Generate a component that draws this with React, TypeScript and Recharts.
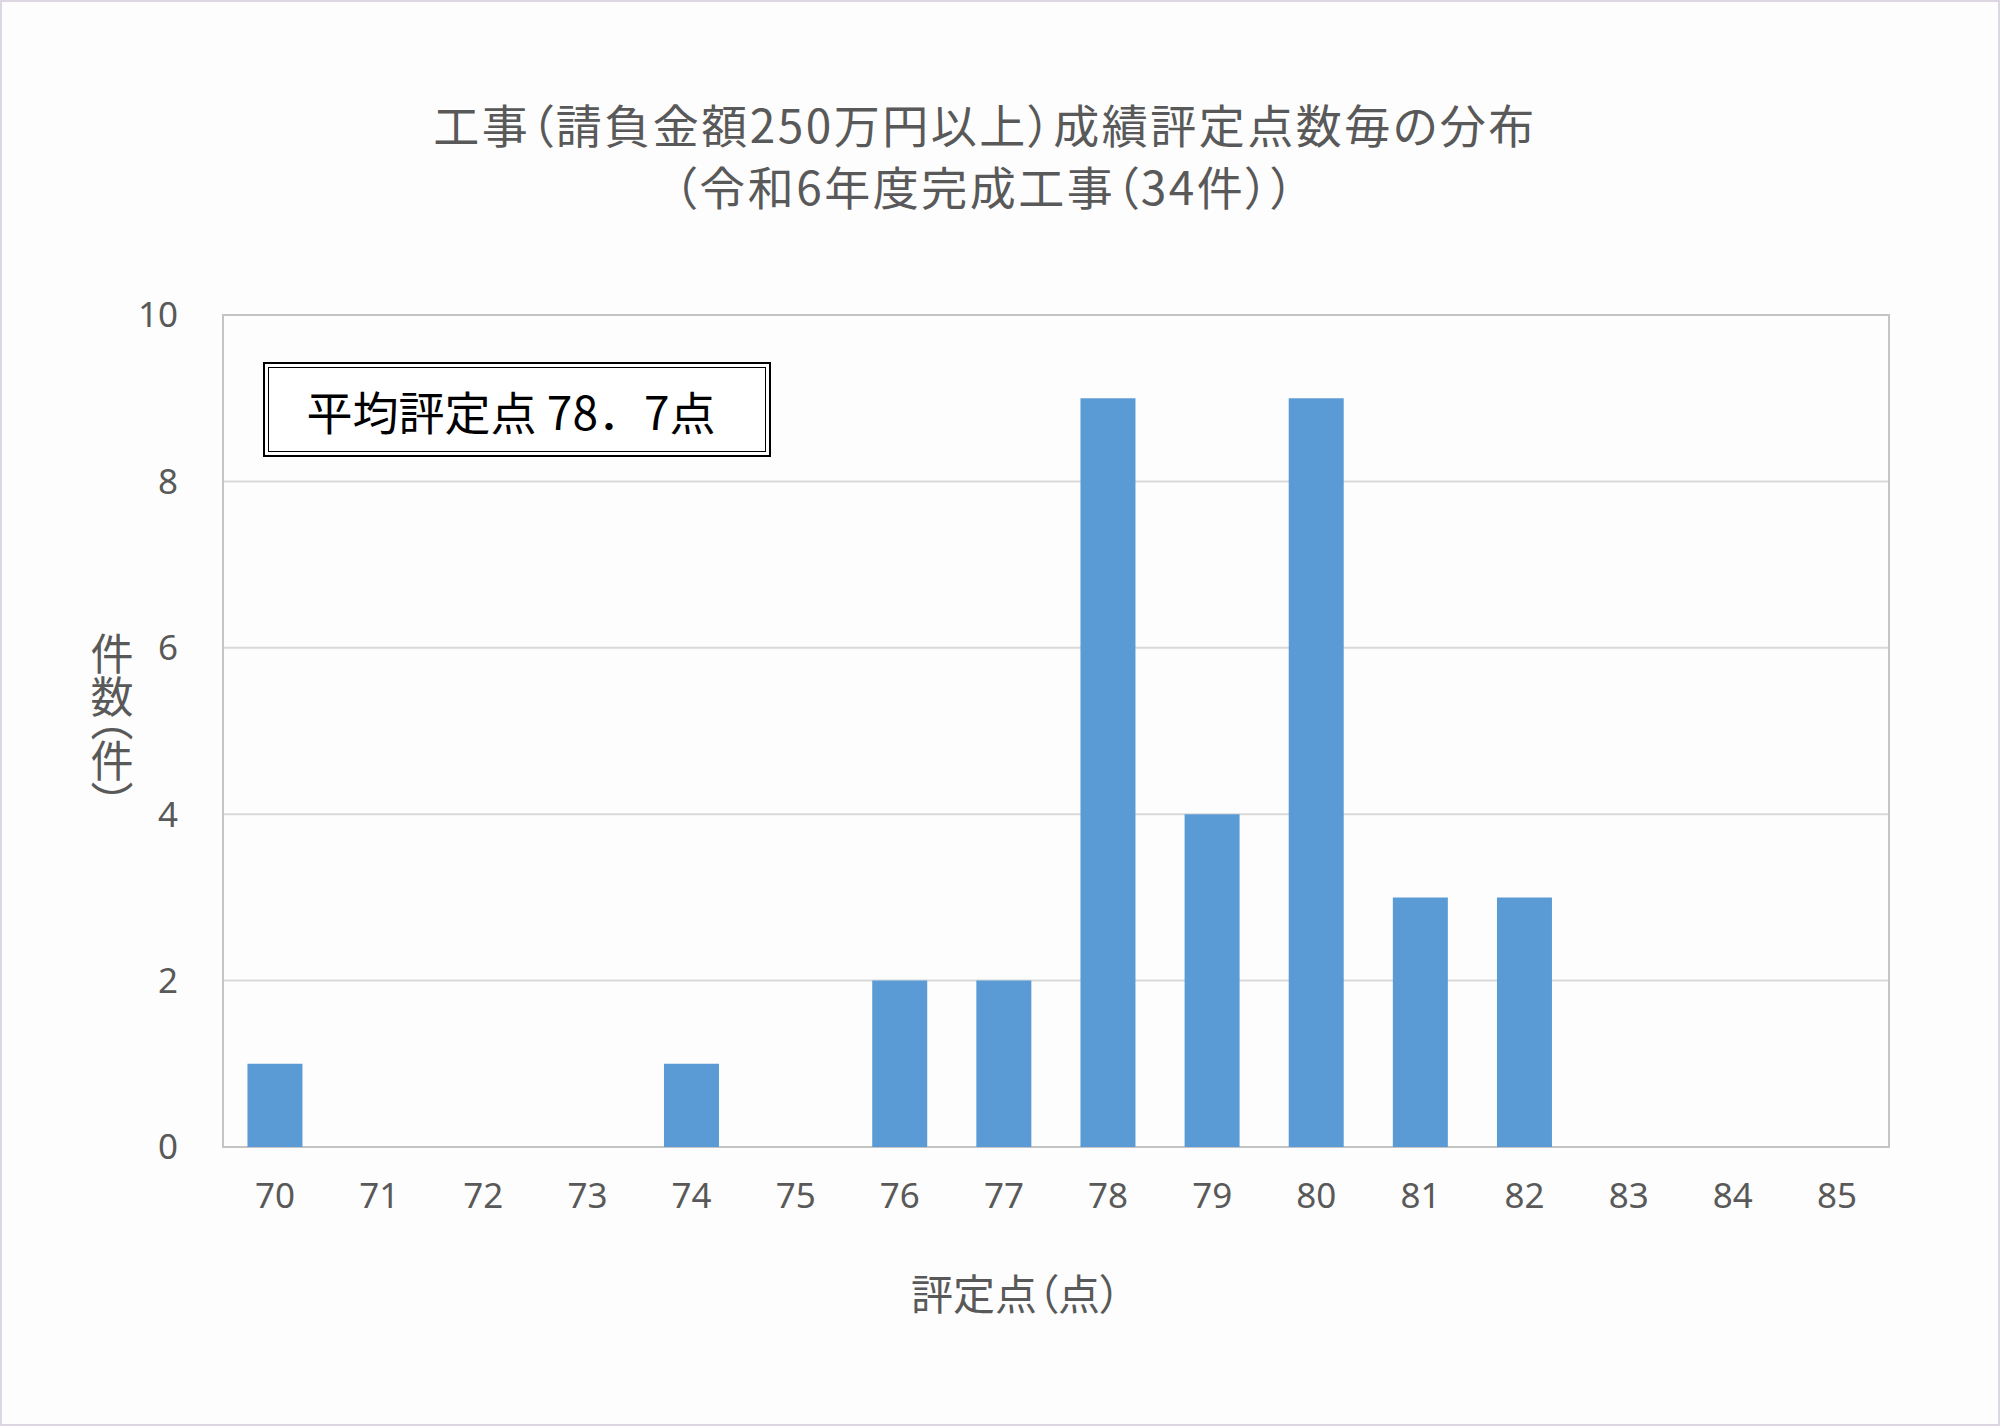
import React from 'react';
import { BarChart, Bar, XAxis, YAxis, CartesianGrid, ReferenceArea } from 'recharts';

const scores = ['70', '71', '72', '73', '74', '75', '76', '77', '78', '79', '80', '81', '82', '83', '84', '85'];
const counts = [1, 0, 0, 0, 1, 0, 2, 2, 9, 4, 9, 3, 3, 0, 0, 0];
const yTicks = [0, 2, 4, 6, 8, 10];
const titleLine1 = '工事（請負金額250万円以上）成績評定点数毎の分布';
const titleLine2 = '（令和6年度完成工事（34件））';
const xTitle = '評定点（点）';
const yTitle = '件数（件）';
const avgLabel = '平均評定点 78．7点';

const data = scores.map((s, i) => ({ score: s, count: counts[i] }));

const CJK = '"Noto Sans CJK JP", "Noto Sans", sans-serif';
const TEXT = '#595959';

export default function App() {
  return (
    <div
      style={{
        position: 'absolute',
        left: 0,
        top: 0,
        width: 2000,
        height: 1426,
        background: '#fdfdfd',
        overflow: 'hidden',
      }}
    >
      <BarChart
        width={2000}
        height={1426}
        data={data}
        margin={{ top: 315, right: 111, bottom: 219, left: 123 }}
        barCategoryGap="23.5%"
        style={{ fontFamily: '"Noto Sans", sans-serif' }}
      >
        <CartesianGrid vertical={false} stroke="#d9d9d9" strokeWidth={2} />
        <XAxis
          dataKey="score"
          interval={0}
          height={60}
          tickLine={false}
          axisLine={false}
          tickSize={0}
          tickMargin={36}
          tick={{ fill: TEXT, fontSize: 35 }}
        />
        <YAxis
          domain={[0, 10]}
          ticks={yTicks}
          width={100}
          tickLine={false}
          axisLine={false}
          tickSize={0}
          tickMargin={45}
          tick={{ fill: TEXT, fontSize: 35 }}
        />
        <ReferenceArea y1={0} y2={10} fill="none" stroke="#c4c4c4" strokeWidth={2} />
        <Bar dataKey="count" fill="#5b9bd5" isAnimationActive={false} />
      </BarChart>

      <div
        style={{
          position: 'absolute',
          left: 0,
          top: 92,
          width: 1970,
          textAlign: 'center',
          fontFamily: CJK,
          fontSize: 46,
          lineHeight: '62px',
          color: TEXT,
          letterSpacing: 2.5,
          fontFeatureSettings: '"palt"',
          whiteSpace: 'nowrap',
        }}
      >
        <div>{titleLine1}</div>
        <div>{titleLine2}</div>
      </div>

      <div
        style={{
          position: 'absolute',
          left: 263,
          top: 362,
          width: 508,
          height: 95,
          boxSizing: 'border-box',
          border: '2px solid #000',
          background: '#fff',
          padding: 3,
        }}
      >
        <div
          style={{
            width: '100%',
            height: '100%',
            boxSizing: 'border-box',
            border: '1px solid #000',
            display: 'flex',
            alignItems: 'center',
            justifyContent: 'center',
            fontFamily: CJK,
            fontSize: 46,
            color: '#000',
            whiteSpace: 'nowrap',
            paddingRight: 12,
          }}
        >
          {avgLabel}
        </div>
      </div>

      <div
        style={{
          position: 'absolute',
          left: 0,
          top: 1262,
          width: 2032,
          textAlign: 'center',
          fontFamily: CJK,
          fontSize: 42,
          lineHeight: '60px',
          color: TEXT,
          fontFeatureSettings: '"palt"',
          whiteSpace: 'nowrap',
        }}
      >
        {xTitle}
      </div>

      <div
        style={{
          position: 'absolute',
          left: 82,
          top: 632,
          width: 60,
          writingMode: 'vertical-rl',
          fontFamily: CJK,
          fontSize: 43,
          lineHeight: '60px',
          color: TEXT,
          fontFeatureSettings: '"vpal"',
          whiteSpace: 'nowrap',
        }}
      >
        {yTitle}
      </div>

      <div
        style={{
          position: 'absolute',
          left: 0,
          top: 0,
          width: 2000,
          height: 1426,
          boxSizing: 'border-box',
          border: '2px solid #dcd6e2',
          pointerEvents: 'none',
        }}
      />
    </div>
  );
}
